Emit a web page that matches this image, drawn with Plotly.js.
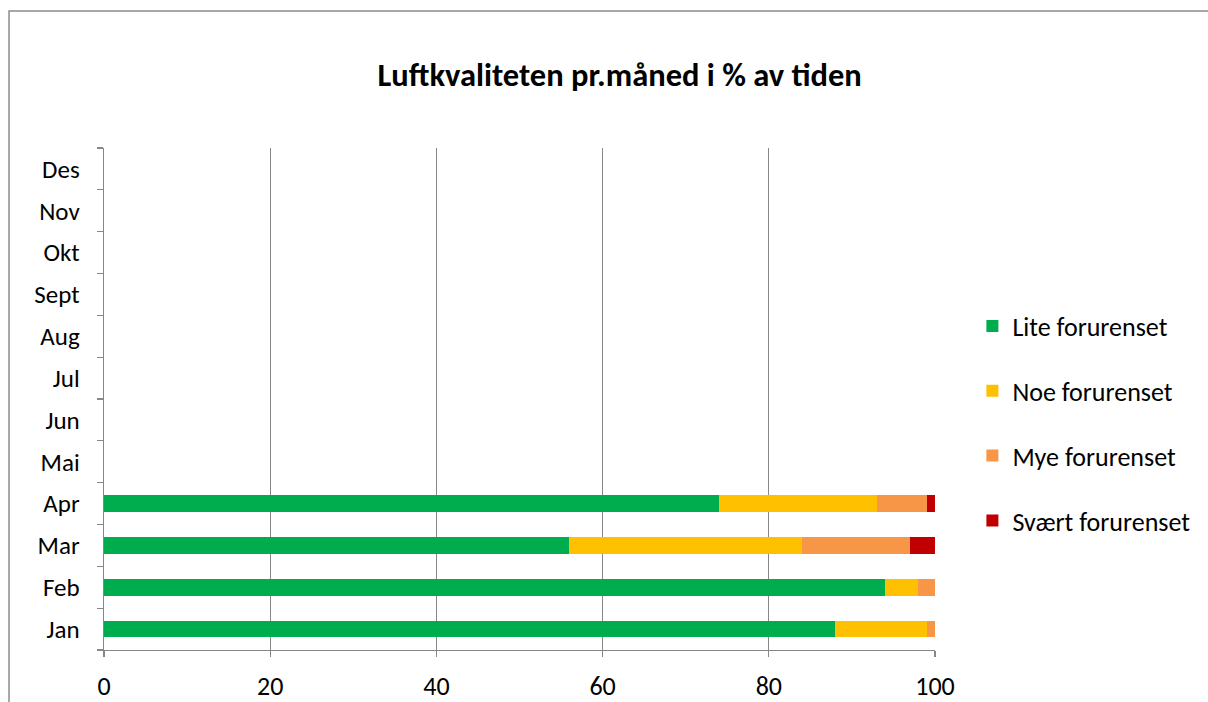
<!DOCTYPE html>
<html>
<head>
<meta charset="utf-8">
<script src="https://cdn.plot.ly/plotly-3.0.1.min.js"></script>
<style>html,body{margin:0;padding:0;background:#fff;}#chart{width:1208px;height:702px;}</style>
</head>
<body>
<div id="chart"></div>
<script>
const months = ["Jan","Feb","Mar","Apr","Mai","Jun","Jul","Aug","Sept","Okt","Nov","Des"];
const seriesNames = ["Lite forurenset","Noe forurenset","Mye forurenset","Svært forurenset"];
const lite   = [88, 94, 56, 74, null, null, null, null, null, null, null, null];
const noe    = [11, 4, 28, 19, null, null, null, null, null, null, null, null];
const mye    = [1, 2, 13, 6, null, null, null, null, null, null, null, null];
const svaert = [0, 0, 3, 1, null, null, null, null, null, null, null, null];
const xTicks = [0, 20, 40, 60, 80, 100];
const colors = ["#00AD4E", "#FFC000", "#F79646", "#C00000"];

const values = [lite, noe, mye, svaert];
const FONT = "Carlito, Calibri, 'Liberation Sans', sans-serif";
const traces = values.map((v, i) => ({
  type: "bar",
  orientation: "h",
  name: seriesNames[i],
  x: v,
  y: months,
  width: 0.4,
  legendgroup: "g" + i,
  marker: {color: colors[i], line: {width: 0}},
  hoverinfo: "x+name"
}));

const layout = {
  width: 1208, height: 702,
  margin: {l: 104, r: 273, t: 148, b: 52},
  paper_bgcolor: "#fff", plot_bgcolor: "#fff",
  barmode: "stack",
  bargap: 0.6,
  font: {family: FONT, size: 25, color: "#000"},
  title: {text: "<b>Luftkvaliteten pr.måned i % av tiden</b>", x: 0.513, xanchor: "center", xref: "container", y: 0.893, yanchor: "middle", yref: "container", font: {family: FONT, size: 32.5, color: "#000"}},
  xaxis: {
    range: [0, 100], tickvals: xTicks, ticktext: xTicks.map(String),
    showgrid: true, gridcolor: "#878787", gridwidth: 1.3,
    zeroline: false, showline: true, linecolor: "#878787", linewidth: 1.3,
    ticks: "outside", ticklen: 6, tickcolor: "#878787", tickwidth: 1.3,
    ticklabelstandoff: 6,
    tickfont: {family: FONT, size: 26, color: "#000"}, fixedrange: true
  },
  yaxis: {
    type: "category", categoryorder: "array", categoryarray: months,
    range: [-0.5, 11.5],
    showgrid: false, zeroline: false, showline: true, linecolor: "#878787", linewidth: 1.3,
    ticks: "outside", tickson: "boundaries", ticklen: 6, tickcolor: "#878787", tickwidth: 1.3,
    ticklabelstandoff: 18,
    tickfont: {family: FONT, size: 25, color: "#000"}, fixedrange: true
  },
  legend: {
    x: 1.045, xanchor: "left", y: 0.451, yanchor: "middle",
    traceorder: "grouped", tracegroupgap: 28,
    font: {family: FONT, size: 26, color: "#000"},
    bgcolor: "rgba(0,0,0,0)", itemwidth: 30
  },
  shapes: [{
    type: "rect", xref: "paper", yref: "paper",
    x0: -0.1143, x1: 1.4, y0: -0.3, y1: 1.273,
    line: {color: "#8c8c8c", width: 1.5}, fillcolor: "rgba(0,0,0,0)", layer: "below"
  }],
  showlegend: true
};

Plotly.newPlot("chart", traces, layout, {displayModeBar: false, staticPlot: true});
</script>
</body>
</html>
